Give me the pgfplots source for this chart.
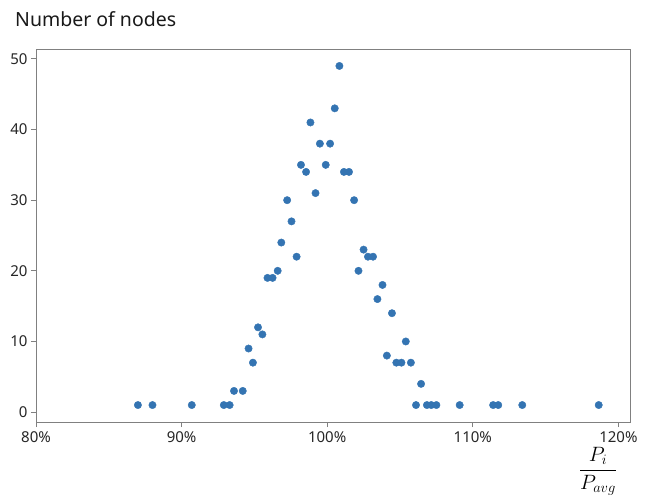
\documentclass[border=0pt]{standalone}
\usepackage{fontspec}
\setmainfont{Noto Sans}
\usepackage{pgfplots}
\pgfplotsset{compat=1.18}
\definecolor{pt}{RGB}{52,116,178}
\definecolor{spine}{RGB}{128,128,128}
\begin{document}
\begin{tikzpicture}
\useasboundingbox (-36pt,-79pt) rectangle (619pt,422pt);
\begin{axis}[at={(0pt,0pt)}, anchor=south west, scale only axis,
  width=594pt, height=373pt,
  xmin=80, xmax=120.8, ymin=-1.4, ymax=51.4,
  xtick={80,90,100,110,120}, xticklabels={80\%,90\%,100\%,110\%,120\%},
  ytick={0,10,20,30,40,50},
  axis line style={spine, line width=0.9pt},
  tick style={spine, line width=0.9pt},
  tick align=outside, major tick length=5pt,
  xtick pos=bottom, ytick pos=left,
  ticklabel style={font=\fontsize{15}{18}\selectfont, text=black!85},
  xticklabel style={yshift=-1pt},
  /pgf/number format/assume math mode=true,
]
\addplot[only marks, mark=*, mark size=3.7pt, mark options={fill=pt, draw=pt}] coordinates {
(87.0,1)(88.0,1)(90.7,1)(92.9,1)(93.3,1)(93.6,3)(94.2,3)(94.6,9)(94.9,7)
(95.25,12)(95.55,11)(95.9,19)(96.25,19)(96.6,20)(96.85,24)(97.25,30)(97.55,27)
(97.9,22)(98.2,35)(98.55,34)(98.85,41)(99.2,31)(99.5,38)(99.9,35)(100.2,38)
(100.52,43)(100.84,49)(101.15,34)(101.5,34)(101.85,30)(102.15,20)(102.5,23)
(102.8,22)(103.15,22)(103.45,16)(103.8,18)(104.1,8)(104.45,14)(104.75,7)
(105.1,7)(105.4,10)(105.75,7)(106.1,1)(106.45,4)(106.85,1)(107.15,1)(107.5,1)
(109.1,1)(111.4,1)(111.75,1)(113.4,1)(118.65,1)
};
\end{axis}
\node[anchor=base west, font=\fontsize{19.5}{23}\selectfont, text=black!90, inner sep=0pt] at (-21pt,395pt) {Number of nodes};
\node[inner sep=0pt] at (562pt,-49pt) {\fontsize{22}{26}\selectfont$\displaystyle\frac{\;P_i\;}{P_{avg}}$};
\end{tikzpicture}
\end{document}
